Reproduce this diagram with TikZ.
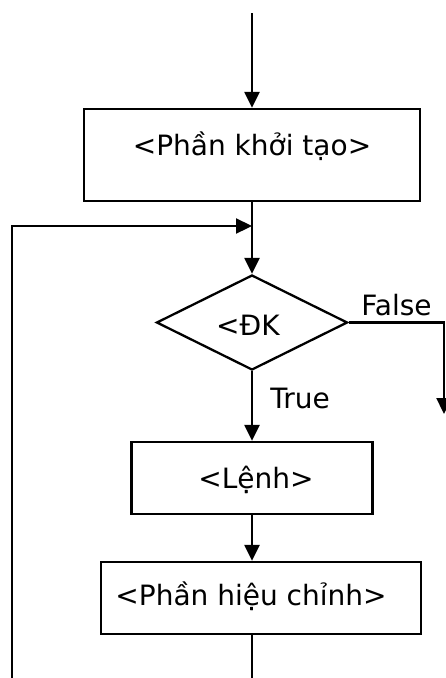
\documentclass[tikz,border=0pt]{standalone}
\usepackage{fontspec}
\setmainfont{DejaVu Sans}
\usetikzlibrary{shapes.geometric,arrows.meta}
\begin{document}
\begin{tikzpicture}[x=1pt,y=-1pt,
  line width=2.3pt,
  box/.style={draw, rectangle, inner sep=0pt},
  cond/.style={draw, diamond, inner sep=0pt},
  lbl/.style={font=\fontsize{28}{33}\selectfont, inner sep=0pt, anchor=base},
  flow/.style={-{Triangle[width=15pt,length=16pt]}},
]
\useasboundingbox (0,0) rectangle (445,678);

% blocks of the loop
\node[box, minimum width=336pt, minimum height=92pt] (init) at (252,155) {};
\node[lbl] (initT) at (252,155) {<Phần khởi tạo>};
\node[cond, minimum width=191pt, minimum height=95pt] (dk) at (252,322.5) {};
\node[lbl] (dkT) at (248,335) {<ĐK};
\node[box, minimum width=241pt, minimum height=72pt] (stmt) at (252,478) {};
\node[lbl] (stmtT) at (256,488) {<Lệnh>};
\node[box, minimum width=320pt, minimum height=72pt] (upd) at (261,598) {};
\node[lbl] (updT) at (251,605) {<Phần hiệu chỉnh>};

% branch labels
\node[lbl] (tr) at (300,408) {True};
\node[lbl] (fa) at (396.5,315) {False};

% free ends and corners of the connectors
\coordinate (start) at (252,13);
\coordinate (merge) at (252,226);
\coordinate (loopL) at (12,226);
\coordinate (loopB) at (12,678);
\coordinate (outB) at (252,678);
\coordinate (fc) at (444,322.5);
\coordinate (fend) at (444,414);

% connectors
\draw[flow] (start) -- (init.north);
\draw (init.south) -- (merge);
\draw[flow] (merge) -- (dk.north);
\draw[flow] (loopB) -- (loopL) -- (merge);
\draw[flow] (dk.south) -- (stmt.north);
\draw[flow] (stmt.south) -- (stmt.south |- upd.north);
\draw (stmt.south |- upd.south) -- (outB);
\draw[flow] (dk.east) -- (fc) -- (fend);
\end{tikzpicture}
\end{document}
